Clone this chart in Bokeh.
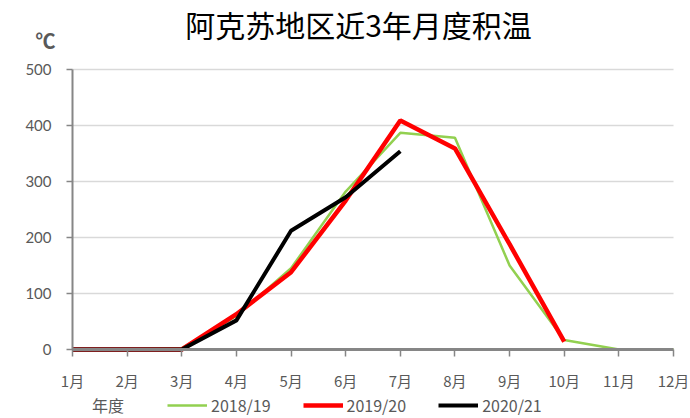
from bokeh.plotting import figure
from bokeh.models import Label, Legend, LegendItem, FixedTicker, Range1d
from bokeh.embed import file_html
from bokeh.resources import INLINE

months = list(range(1, 13))
month_labels = ["1月", "2月", "3月", "4月", "5月", "6月", "7月", "8月", "9月", "10月", "11月", "12月"]

s2018 = [0, 0, 2, 60, 145, 282, 387, 378, 150, 17, 0, 0]
s2019_x = months[:10]
s2019 = [0, 0, 0, 63, 138, 266, 409, 359, 188, 14]
s2020_x = months[:7]
s2020 = [0, 0, 0, 52, 212, 272, 354]

series_names = ["2018/19", "2019/20", "2020/21"]
y_ticks = [0, 100, 200, 300, 400, 500]

W, H = 690, 418
left_px, right_px, top_px, bottom_px = 72, 673, 69, 349
xs = (right_px - left_px) / (months[-1] - months[0])
ys = (bottom_px - top_px) / (y_ticks[-1] - y_ticks[0])
x_range = Range1d(months[0] - left_px / xs, months[-1] + (W - right_px) / xs)
y_range = Range1d(y_ticks[0] - (H - bottom_px) / ys, y_ticks[-1] + top_px / ys)

p = figure(width=W, height=H, output_backend="svg", toolbar_location=None,
           x_range=x_range, y_range=y_range,
           min_border=0, min_border_left=0, min_border_right=0,
           min_border_top=0, min_border_bottom=0)
p.outline_line_color = None
p.xgrid.grid_line_color = None
p.ygrid.grid_line_color = None

# horizontal gridlines across the plot area
p.segment(x0=[months[0]] * len(y_ticks[1:]), x1=[months[-1]] * len(y_ticks[1:]),
          y0=y_ticks[1:], y1=y_ticks[1:], line_color="#d9d9d9", line_width=1.5)

g = p.line(months, s2018, line_color="#92d050", line_width=2.5)
r = p.line(s2019_x, s2019, line_color="#ff0000", line_width=4.5)
b = p.line(s2020_x, s2020, line_color="#000000", line_width=4)
dummy = p.line([months[0], months[0]], [0, 0], line_alpha=0)

xa = p.xaxis[0]
xa.fixed_location = 0
xa.bounds = (months[0], months[-1])
xa.ticker = FixedTicker(ticks=months)
xa.major_label_overrides = {m: l for m, l in zip(months, month_labels)}
xa.axis_line_color = "#868686"
xa.axis_line_width = 3
xa.major_tick_line_color = "#868686"
xa.major_tick_line_width = 1.5
xa.major_tick_out = 7
xa.major_tick_in = 0
xa.minor_tick_line_color = None
xa.major_label_standoff = 13
xa.major_label_text_font = "Noto Sans CJK SC"
xa.major_label_text_font_size = "15px"
xa.major_label_text_color = "#595959"

ya = p.yaxis[0]
ya.fixed_location = months[0]
ya.bounds = (y_ticks[0], y_ticks[-1])
ya.ticker = FixedTicker(ticks=y_ticks)
ya.axis_line_color = "#868686"
ya.axis_line_width = 2
ya.major_tick_line_color = "#868686"
ya.major_tick_line_width = 1.5
ya.major_tick_out = 6
ya.major_tick_in = 0
ya.minor_tick_line_color = None
ya.major_label_standoff = 15
ya.major_label_text_font = "Lato"
ya.major_label_text_font_size = "15px"
ya.major_label_text_color = "#595959"

p.add_layout(Label(x=358, y=H - 23, x_units="screen", y_units="screen",
                   text="阿克苏地区近3年月度积温", text_font="Noto Sans CJK SC",
                   text_font_size="30px", text_color="#000000", text_align="center",
                   text_baseline="middle"))
p.add_layout(Label(x=45, y=H - 40, x_units="screen", y_units="screen",
                   text="℃", text_font="Noto Sans CJK SC", text_font_size="20px",
                   text_font_style="bold", text_color="#595959", text_align="center",
                   text_baseline="middle"))

legend = Legend(items=[LegendItem(label="年度", renderers=[dummy]),
                       LegendItem(label=series_names[0], renderers=[g]),
                       LegendItem(label=series_names[1], renderers=[r]),
                       LegendItem(label=series_names[2], renderers=[b])],
                orientation="horizontal", location=(48, 1),
                background_fill_alpha=0, border_line_color=None,
                label_text_font="Noto Sans CJK SC", label_text_font_size="16px",
                label_text_color="#595959", glyph_width=40, glyph_height=16,
                label_width=43, spacing=32, label_standoff=4, padding=0, margin=0)
p.add_layout(legend)

open("out.html", "w").write(file_html(p, INLINE))
